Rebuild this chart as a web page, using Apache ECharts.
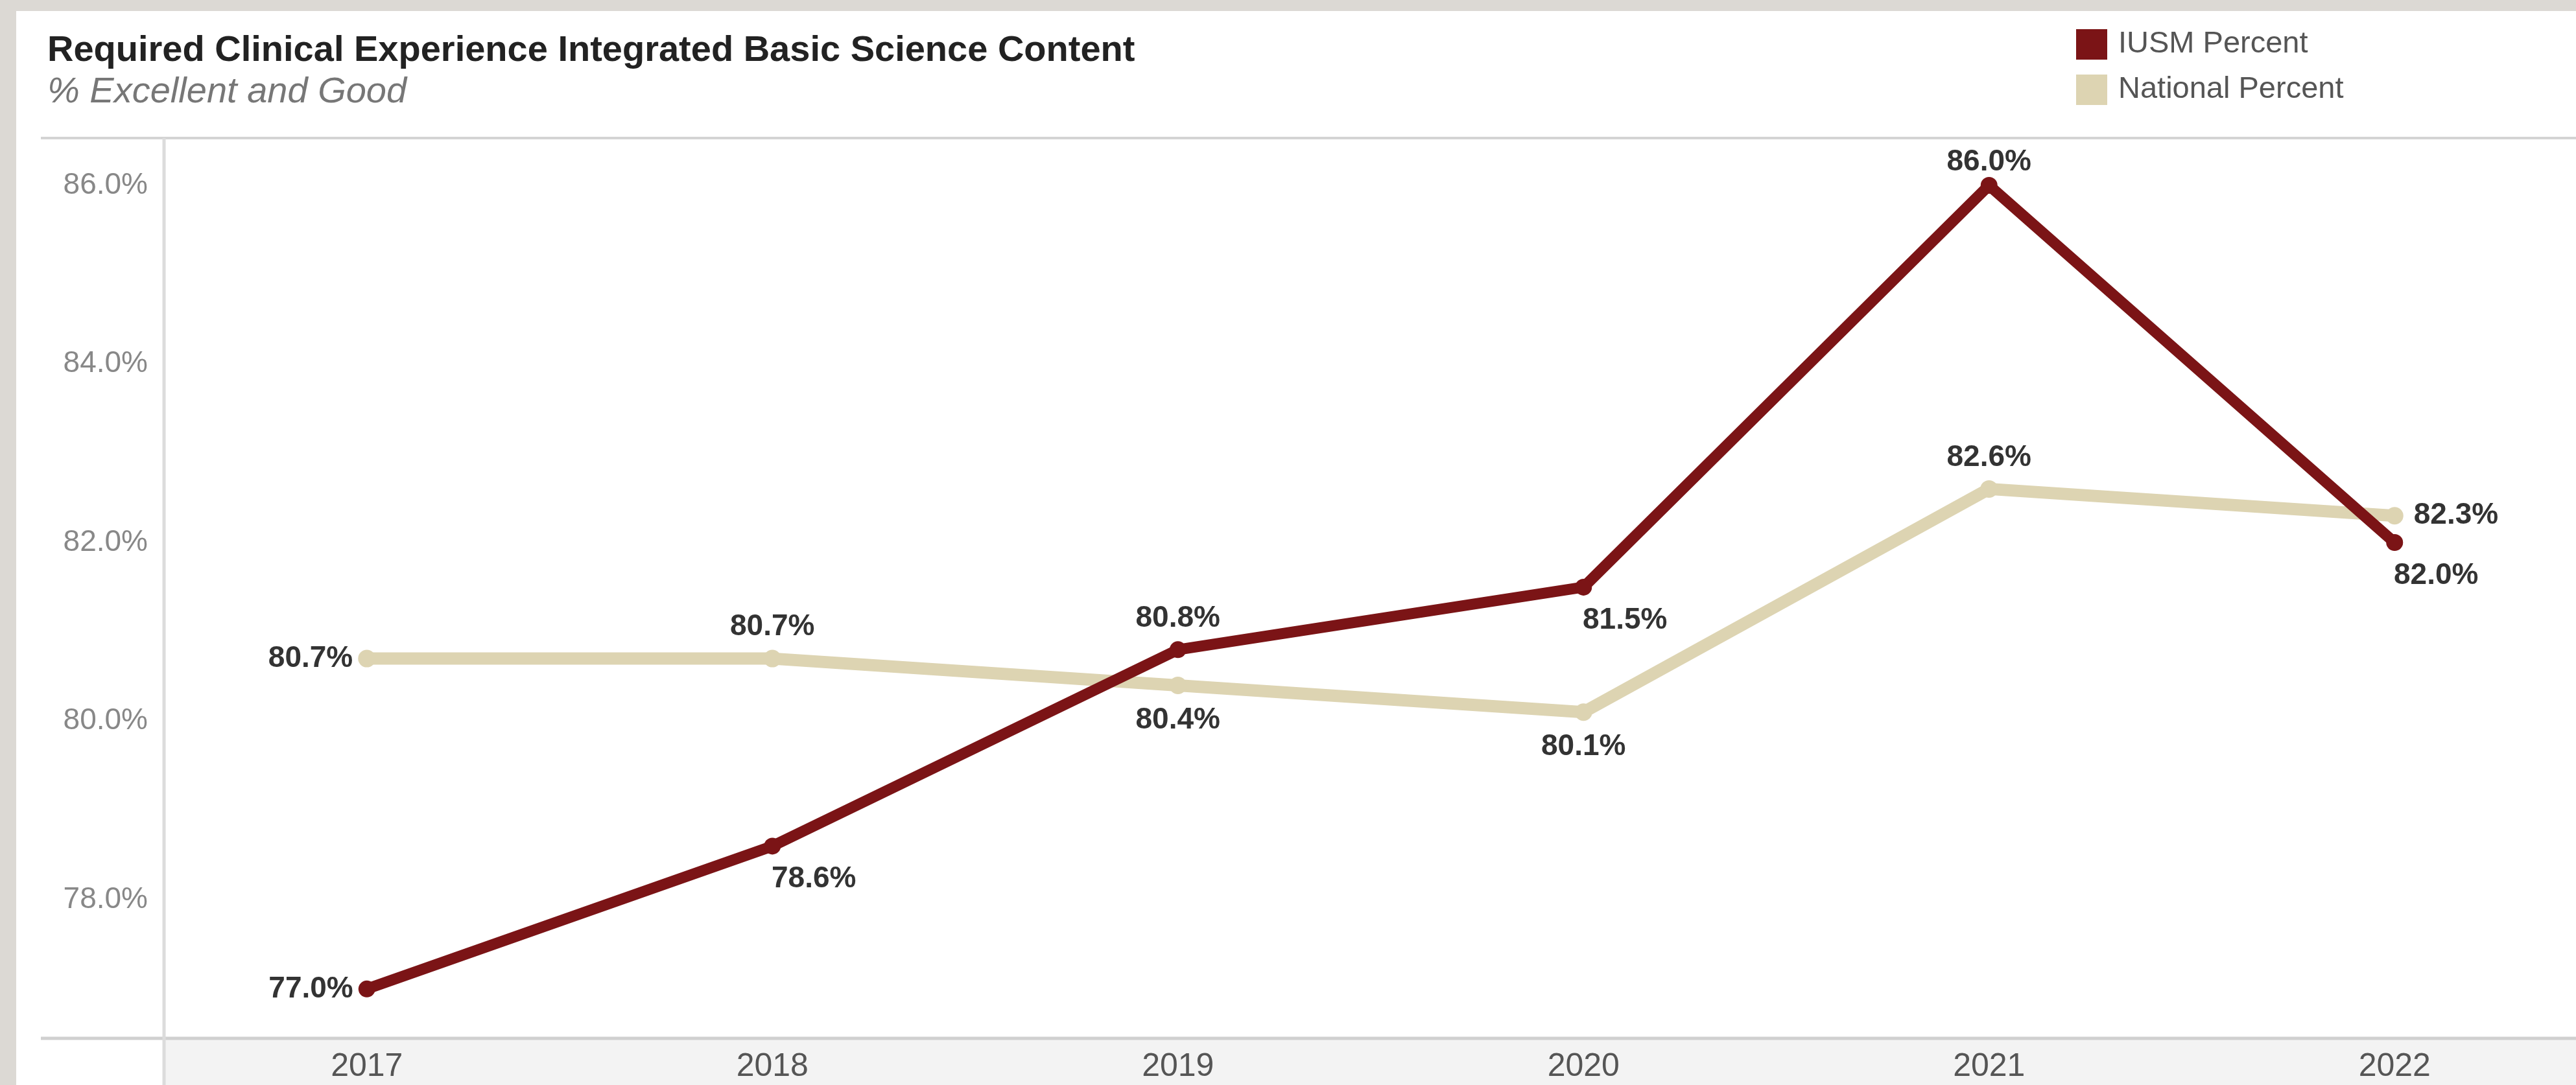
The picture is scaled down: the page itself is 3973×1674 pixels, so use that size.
<!DOCTYPE html>
<html>
<head>
<meta charset="utf-8">
<script src="https://cdn.jsdelivr.net/npm/echarts@6/dist/echarts.min.js"></script>
<style>
html,body{margin:0;padding:0;background:#dcd9d4;}
#chart{width:3973px;height:1674px;}
</style>
</head>
<body>
<div id="chart"></div>
<script>
// ---- data ----
var years = ['2017', '2018', '2019', '2020', '2021', '2022'];
var iusmPercent = [77.0, 78.6, 80.8, 81.5, 86.0, 82.0];
var nationalPercent = [80.7, 80.7, 80.4, 80.1, 82.6, 82.3];
var yTicks = [78, 80, 82, 84, 86];
var seriesNames = ['IUSM Percent', 'National Percent'];

// ---- style ----
var IUSM_COLOR = '#7b1416';
var NAT_COLOR = '#ddd4b2';
var NARROW = "'Liberation Sans Narrow','Arial Narrow','Liberation Sans',Arial,sans-serif";
var SANS = "'Liberation Sans',Arial,sans-serif";
var iusmPlace = ['left', 'belowRight', 'top', 'belowRight', 'topNear', 'belowRight'];
var natPlace = ['left', 'top', 'bottom', 'bottom', 'top', 'right'];

function labelFor(place) {
  var base = {
    show: true, fontFamily: NARROW, fontWeight: 'bold', fontSize: 46, color: '#333',
    formatter: function (p) { return p.value.toFixed(1) + '%'; }
  };
  if (place === 'left') { base.position = 'left'; base.distance = 8; }
  else if (place === 'right') { base.position = 'right'; base.distance = 16; }
  else if (place === 'top') { base.position = 'top'; base.distance = 12; }
  else if (place === 'topNear') { base.position = 'top'; base.distance = 0; }
  else if (place === 'bottom') { base.position = 'bottom'; base.distance = 17; }
  else if (place === 'belowRight') { base.position = 'bottom'; base.distance = 15; base.offset = [64, 0]; }
  return base;
}
function buildData(vals, places) {
  return vals.map(function (v, i) { return { value: v, label: labelFor(places[i]) }; });
}

var W = 3973, H = 1674;
var gridLeft = 253, gridTop = 213, gridBottomY = 1602;
var catW = 625.5;

var chart = echarts.init(document.getElementById('chart'), null, { renderer: 'canvas' });
chart.setOption({
  backgroundColor: '#dcd9d4',
  animation: false,
  title: {
    text: 'Required Clinical Experience Integrated Basic Science Content',
    subtext: '% Excellent and Good',
    left: 68, top: 46, itemGap: 7,
    textStyle: { fontFamily: SANS, fontSize: 56, fontWeight: 'bold', color: '#222', lineHeight: 56 },
    subtextStyle: { fontFamily: SANS, fontSize: 56, fontStyle: 'italic', color: '#777', lineHeight: 56 }
  },
  legend: {
    data: seriesNames,
    orient: 'vertical',
    left: 3197, top: 40,
    icon: 'rect',
    itemWidth: 48, itemHeight: 47, itemGap: 23,
    textStyle: { fontFamily: SANS, fontSize: 47, color: '#555', padding: [0, 0, 0, 12] }
  },
  graphic: [
    { type: 'rect', z: -100, shape: { x: 25, y: 17, width: W - 25, height: H - 17 }, style: { fill: '#ffffff' } },
    { type: 'rect', z: -90, shape: { x: gridLeft, y: gridBottomY, width: W - gridLeft, height: H - gridBottomY }, style: { fill: '#f3f3f3' } },
    { type: 'line', z: -80, shape: { x1: 63, y1: gridTop, x2: W, y2: gridTop }, style: { stroke: '#d4d4d4', lineWidth: 4 } },
    { type: 'line', z: -80, shape: { x1: 63, y1: gridBottomY, x2: W, y2: gridBottomY }, style: { stroke: '#d0d0d0', lineWidth: 5 } },
    { type: 'line', z: -80, shape: { x1: gridLeft, y1: gridTop, x2: gridLeft, y2: H }, style: { stroke: '#dcdcdc', lineWidth: 5 } }
  ],
  grid: {
    left: gridLeft, top: gridTop, width: catW * years.length, height: gridBottomY - gridTop,
    containLabel: false, outerBoundsMode: 'none'
  },
  xAxis: {
    type: 'category',
    data: years,
    boundaryGap: true,
    axisLine: { show: false },
    axisTick: { show: false },
    splitLine: { show: false },
    axisLabel: { fontFamily: NARROW, fontSize: 50, color: '#555', margin: 19 }
  },
  yAxis: {
    type: 'value',
    min: 76.447,
    max: 86.53,
    axisLine: { show: false },
    axisTick: { show: false },
    splitLine: { show: false },
    axisLabel: {
      customValues: yTicks,
      fontFamily: NARROW, fontSize: 46, color: '#888', margin: 25,
      padding: [10, 0, 0, 0],
      formatter: function (v) { return v.toFixed(1) + '%'; }
    }
  },
  series: [
    {
      name: seriesNames[1], type: 'line', z: 2,
      data: buildData(nationalPercent, natPlace),
      symbol: 'circle', symbolSize: 27,
      itemStyle: { color: NAT_COLOR },
      lineStyle: { color: NAT_COLOR, width: 19 },
      emphasis: { disabled: true }
    },
    {
      name: seriesNames[0], type: 'line', z: 3,
      data: buildData(iusmPercent, iusmPlace),
      symbol: 'circle', symbolSize: 26,
      itemStyle: { color: IUSM_COLOR },
      lineStyle: { color: IUSM_COLOR, width: 17 },
      emphasis: { disabled: true }
    }
  ]
});
</script>
</body>
</html>
